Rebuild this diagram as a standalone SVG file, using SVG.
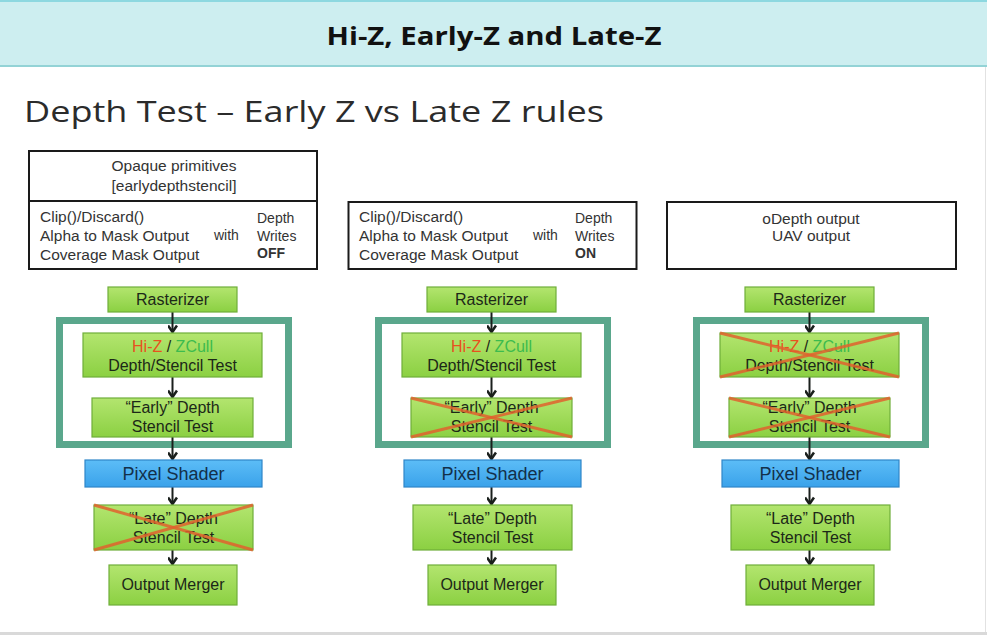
<svg xmlns="http://www.w3.org/2000/svg" width="987" height="635" viewBox="0 0 987 635">
<defs>
<linearGradient id="gGreen" x1="0" y1="0" x2="0" y2="1">
<stop offset="0" stop-color="#b3e56f"/>
<stop offset="1" stop-color="#8bd042"/>
</linearGradient>
<linearGradient id="gBlue" x1="0" y1="0" x2="0" y2="1">
<stop offset="0" stop-color="#5cbdf7"/>
<stop offset="1" stop-color="#3aa2ea"/>
</linearGradient>
<marker id="arrD" viewBox="0 0 12 10" refX="9" refY="5" markerWidth="12" markerHeight="10" markerUnits="userSpaceOnUse" orient="auto">
<path d="M2.5,0.5 L9,5 L2.5,9.5" fill="none" stroke="#1a1f1c" stroke-width="2.6"/>
</marker>
</defs>
<style>
.box{fill:url(#gGreen);stroke:#6fae3a;stroke-width:1.2}
.blue{fill:url(#gBlue);stroke:#2f86c8;stroke-width:1.2}
.frame{fill:none;stroke:#5aa78c;stroke-width:7}
.wbox{fill:#fff;stroke:#1a1a1a;stroke-width:2}
.t{font-family:"Liberation Sans",Arial,sans-serif;font-size:16px;fill:#1c2818;text-anchor:middle}
.tp{font-family:"Liberation Sans",Arial,sans-serif;font-size:18px;fill:#13304a;text-anchor:middle}
.g{font-family:"Liberation Sans",Arial,sans-serif;font-size:15.5px;fill:#333}
.s{font-family:"Liberation Sans",Arial,sans-serif;font-size:14px;fill:#333}
.x{stroke:#e0622e;stroke-width:3;stroke-opacity:0.85}
.c{stroke:#1a1f1c;stroke-width:2;fill:none}
</style>
<rect x="0" y="0" width="987" height="635" fill="#fff"/>
<g id="header">
<rect x="0" y="0" width="987" height="66" fill="#cdeef0"/>
<rect x="0" y="0" width="987" height="2" fill="#8dd8e0"/>
<rect x="0" y="65" width="987" height="2" fill="#93d3d6"/>
<text x="494" y="45" text-anchor="middle" font-family="'Open Sans','Noto Sans',sans-serif" font-weight="bold" font-size="25" fill="#111" textLength="335" lengthAdjust="spacingAndGlyphs">Hi-Z, Early-Z and Late-Z</text>
</g>
<rect x="0" y="632" width="987" height="3" fill="#d9d9d9"/>
<line x1="985.5" y1="67" x2="985.5" y2="632" stroke="#e2e2e2" stroke-width="1"/>
<text id="subtitle" x="24" y="122" font-family="'Open Sans','Noto Sans',sans-serif" font-size="29" fill="#2b2b2b" textLength="580" lengthAdjust="spacingAndGlyphs">Depth Test – Early Z vs Late Z rules</text>

<g id="cond1">
<rect class="wbox" x="29" y="151" width="288" height="118"/>
<line x1="29" y1="201" x2="317" y2="201" stroke="#1a1a1a" stroke-width="2"/>
<text class="g" x="174" y="171" text-anchor="middle">Opaque primitives</text>
<text class="g" x="174" y="191" text-anchor="middle">[earlydepthstencil]</text>
<text class="g" x="40" y="222">Clip()/Discard()</text>
<text class="g" x="40" y="241">Alpha to Mask Output</text>
<text class="g" x="40" y="260">Coverage Mask Output</text>
<text class="s" x="214" y="240" font-size="13.5">with</text>
<text class="s" x="257" y="223">Depth</text>
<text class="s" x="257" y="241">Writes</text>
<text class="s" x="257" y="258" font-weight="bold">OFF</text>
</g>
<g id="cond2">
<rect class="wbox" x="348.5" y="202" width="288" height="67"/>
<text class="g" x="359" y="222">Clip()/Discard()</text>
<text class="g" x="359" y="241">Alpha to Mask Output</text>
<text class="g" x="359" y="260">Coverage Mask Output</text>
<text class="s" x="533" y="240" font-size="13.5">with</text>
<text class="s" x="575" y="223">Depth</text>
<text class="s" x="575" y="241">Writes</text>
<text class="s" x="575" y="258" font-weight="bold">ON</text>
</g>
<g id="cond3">
<rect class="wbox" x="667" y="202" width="289" height="67"/>
<text class="g" x="811" y="224" text-anchor="middle">oDepth output</text>
<text class="g" x="811" y="241" text-anchor="middle">UAV output</text>
</g>

<g id="frame1"><rect class="frame" x="59.5" y="320.5" width="229" height="124"/></g>
<g id="frame2"><rect class="frame" x="378.5" y="320.5" width="229" height="124"/></g>
<g id="frame3"><rect class="frame" x="696.5" y="320.5" width="229" height="124"/></g>

<g id="connectors">
<g>
<line class="c" x1="172.5" y1="312" x2="172.5" y2="332" marker-end="url(#arrD)"/>
<line class="c" x1="172.5" y1="377" x2="172.5" y2="397" marker-end="url(#arrD)"/>
<line class="c" x1="172.5" y1="437" x2="172.5" y2="459" marker-end="url(#arrD)"/>
<line class="c" x1="172.5" y1="487" x2="172.5" y2="504" marker-end="url(#arrD)"/>
<line class="c" x1="172.5" y1="550" x2="172.5" y2="564" marker-end="url(#arrD)"/>
</g>
<g transform="translate(319,0)">
<line class="c" x1="172.5" y1="312" x2="172.5" y2="332" marker-end="url(#arrD)"/>
<line class="c" x1="172.5" y1="377" x2="172.5" y2="397" marker-end="url(#arrD)"/>
<line class="c" x1="172.5" y1="437" x2="172.5" y2="459" marker-end="url(#arrD)"/>
<line class="c" x1="172.5" y1="487" x2="172.5" y2="504" marker-end="url(#arrD)"/>
<line class="c" x1="172.5" y1="550" x2="172.5" y2="564" marker-end="url(#arrD)"/>
</g>
<g transform="translate(637,0)">
<line class="c" x1="172.5" y1="312" x2="172.5" y2="332" marker-end="url(#arrD)"/>
<line class="c" x1="172.5" y1="377" x2="172.5" y2="397" marker-end="url(#arrD)"/>
<line class="c" x1="172.5" y1="437" x2="172.5" y2="459" marker-end="url(#arrD)"/>
<line class="c" x1="172.5" y1="487" x2="172.5" y2="504" marker-end="url(#arrD)"/>
<line class="c" x1="172.5" y1="550" x2="172.5" y2="564" marker-end="url(#arrD)"/>
</g>
</g>

<g id="rast1"><rect class="box" x="108" y="287" width="129" height="25"/><text class="t" x="172.5" y="305">Rasterizer</text></g>
<g id="hiz1"><rect class="box" x="83" y="333" width="179" height="44"/>
<text class="t" x="172.5" y="352"><tspan fill="#e8521e">Hi-Z</tspan> / <tspan fill="#3dbb4e">ZCull</tspan></text>
<text class="t" x="172.5" y="371">Depth/Stencil Test</text></g>
<g id="early1"><rect class="box" x="92" y="398" width="161" height="39"/>
<text class="t" x="172.5" y="413">“Early” Depth</text><text class="t" x="172.5" y="432">Stencil Test</text></g>
<g id="ps1"><rect class="blue" x="85" y="460" width="177" height="27"/><text class="tp" x="173.5" y="480">Pixel Shader</text></g>
<g id="late1"><rect class="box" x="94" y="505" width="159" height="45"/>
<text class="t" x="173.5" y="524">“Late” Depth</text><text class="t" x="173.5" y="543">Stencil Test</text>
<line class="x" x1="94" y1="505" x2="253" y2="550"/><line class="x" x1="94" y1="550" x2="253" y2="505"/></g>
<g id="om1"><rect class="box" x="109" y="565" width="128" height="40"/><text class="t" x="173" y="590">Output Merger</text></g>

<g id="rast2"><rect class="box" x="427" y="287" width="129" height="25"/><text class="t" x="491.5" y="305">Rasterizer</text></g>
<g id="hiz2"><rect class="box" x="402" y="333" width="179" height="44"/>
<text class="t" x="491.5" y="352"><tspan fill="#e8521e">Hi-Z</tspan> / <tspan fill="#3dbb4e">ZCull</tspan></text>
<text class="t" x="491.5" y="371">Depth/Stencil Test</text></g>
<g id="early2"><rect class="box" x="411" y="398" width="161" height="39"/>
<text class="t" x="491.5" y="413">“Early” Depth</text><text class="t" x="491.5" y="432">Stencil Test</text>
<line class="x" x1="411" y1="398" x2="572" y2="437"/><line class="x" x1="411" y1="437" x2="572" y2="398"/></g>
<g id="ps2"><rect class="blue" x="404" y="460" width="177" height="27"/><text class="tp" x="492.5" y="480">Pixel Shader</text></g>
<g id="late2"><rect class="box" x="413" y="505" width="159" height="45"/>
<text class="t" x="492.5" y="524">“Late” Depth</text><text class="t" x="492.5" y="543">Stencil Test</text></g>
<g id="om2"><rect class="box" x="428" y="565" width="128" height="40"/><text class="t" x="492" y="590">Output Merger</text></g>

<g id="rast3"><rect class="box" x="745" y="287" width="129" height="25"/><text class="t" x="809.5" y="305">Rasterizer</text></g>
<g id="hiz3"><rect class="box" x="720" y="333" width="179" height="44"/>
<text class="t" x="809.5" y="352"><tspan fill="#e8521e">Hi-Z</tspan> / <tspan fill="#3dbb4e">ZCull</tspan></text>
<text class="t" x="809.5" y="371">Depth/Stencil Test</text>
<line class="x" x1="720" y1="333" x2="899" y2="377"/><line class="x" x1="720" y1="377" x2="899" y2="333"/></g>
<g id="early3"><rect class="box" x="729" y="398" width="161" height="39"/>
<text class="t" x="809.5" y="413">“Early” Depth</text><text class="t" x="809.5" y="432">Stencil Test</text>
<line class="x" x1="729" y1="398" x2="890" y2="437"/><line class="x" x1="729" y1="437" x2="890" y2="398"/></g>
<g id="ps3"><rect class="blue" x="722" y="460" width="177" height="27"/><text class="tp" x="810.5" y="480">Pixel Shader</text></g>
<g id="late3"><rect class="box" x="731" y="505" width="159" height="45"/>
<text class="t" x="810.5" y="524">“Late” Depth</text><text class="t" x="810.5" y="543">Stencil Test</text></g>
<g id="om3"><rect class="box" x="746" y="565" width="128" height="40"/><text class="t" x="810" y="590">Output Merger</text></g>
</svg>
